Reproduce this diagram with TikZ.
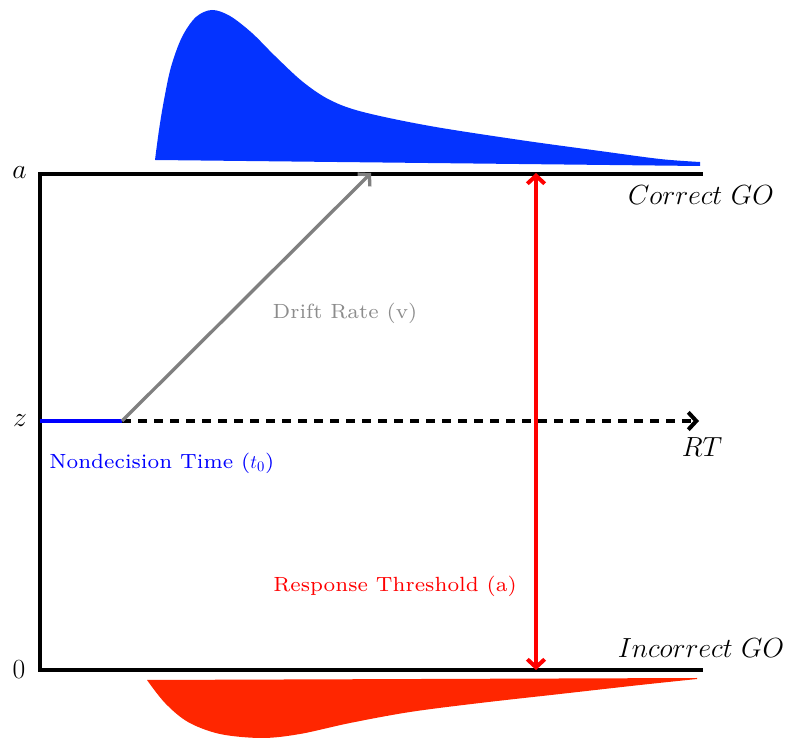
\documentclass[tikz,border=0pt]{standalone}
\usepackage{fontspec}
\newfontfamily\labfont{lmroman7-regular.otf}
\usetikzlibrary{arrows.meta}
\definecolor{distblue}{HTML}{0433FF}
\definecolor{distred}{HTML}{FF2600}
\definecolor{driftgray}{HTML}{808080}
\definecolor{labgray}{HTML}{8C8C8C}
\begin{document}
\begin{tikzpicture}[x=0.75pt,y=-0.75pt,
  axis/.style={line width=3pt, black},
  barb/.style={-{Straight Barb[length=6pt,width=13pt]}},
  lab/.style={font=\labfont\fontsize{15.4}{18}\selectfont, inner sep=0pt},
  big/.style={font=\fontsize{21.7}{26}\selectfont, inner sep=0pt}]
\useasboundingbox (0,0) rectangle (794,741);
% distributions
\fill[distblue] plot[smooth, tension=0.55] coordinates {(155,160) (159,130) (164,100) (171,67) (182,37) (196,17) (212,10) (230,16) (252,33) (275,56) (303,82) (330,100) (363,112) (430,126) (520,140) (600,151) (660,159) (700,162)} -- (700,166) -- cycle;
\fill[distred] plot[smooth, tension=0.55] coordinates {(147,680) (165,703) (188,722) (220,734) (262,738) (300,734) (350,723) (410,712) (480,703) (560,694) (640,685) (697,679)} -- (697,678) -- cycle;
% coordinates
\coordinate (tl) at (39.5,174);
\coordinate (tr) at (701,174);
\coordinate (bl) at (39.5,670);
\coordinate (br) at (701,670);
\coordinate (zl) at (39.5,421);
\coordinate (t0) at (122,421);
\coordinate (rt) at (699,421);
\coordinate (drift) at (371,173);
\coordinate (rtop) at (536,173);
\coordinate (rbot) at (536,670);
% axes
\draw[axis, line cap=rect] (tr) -- (tl) -- (bl) -- (br);
\draw[line width=3pt, blue] (zl) -- (t0);
\draw[line width=3pt, black, dash pattern=on 7pt off 5pt, barb] (t0) -- (rt);
\draw[line width=2.5pt, driftgray, barb] (t0) -- (drift);
\draw[line width=3pt, red, {Straight Barb[length=6pt,width=13pt]}-{Straight Barb[length=6pt,width=13pt]}] (rbot) -- (rtop);
% labels
\node[big] (la) at (19.5,173) {$a$};
\node[big] (lz) at (20,421) {$z$};
\node[big] (l0) at (19,670) {$0$};
\node[big] (cgo) at (701,195) {$Correct\ GO$};
\node[big] (igo) at (701,648) {$Incorrect\ GO$};
\node[big] (lrt) at (702,447) {$RT$};
\node[lab, text=labgray] (ldr) at (345,313) {Drift Rate (v)};
\node[lab, text=blue, anchor=west] (lnd) at (49,463) {Nondecision Time ($t_0$)};
\node[lab, text=red] (lrs) at (395,586) {Response Threshold (a)};
\end{tikzpicture}
\end{document}
